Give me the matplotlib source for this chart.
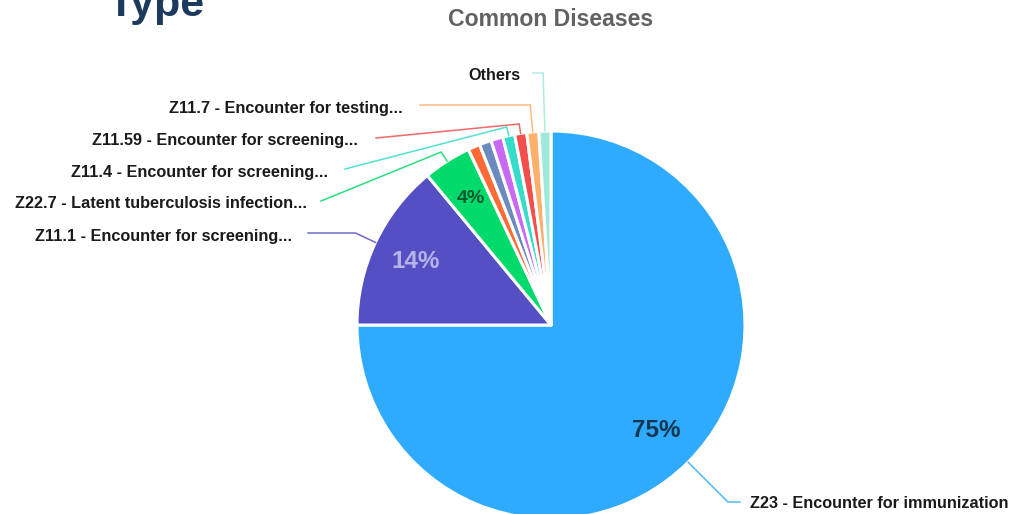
import matplotlib
matplotlib.use("Agg")
import matplotlib.pyplot as plt
import numpy as np

# ---- data ----
categories = [
    "Z23 - Encounter for immunization",
    "Z11.1 - Encounter for screening...",
    "Z22.7 - Latent tuberculosis infection...",
    "Slice A",
    "Slice B",
    "Slice C",
    "Z11.4 - Encounter for screening...",
    "Z11.59 - Encounter for screening...",
    "Z11.7 - Encounter for testing...",
    "Others",
]
values = [75, 14, 4, 1, 1, 1, 1, 1, 1, 1]
show_label = [True, True, True, False, False, False, True, True, True, True]
colors = ["#2eabff", "#5450c4", "#03da6c", "#ff6a36", "#6b8abf",
          "#c868f3", "#35dcc8", "#f54c4c", "#ffb06c", "#9ee9df"]
title = "Common Diseases"
header = "Type"

plt.rcParams['font.family'] = ['Liberation Sans', 'DejaVu Sans']

W, H = 1013, 514
CX, CY, R = 551, 325, 194

def d(px, py):
    return (px - CX) / R, (CY - py) / R

fig = plt.figure(figsize=(W / 100, H / 100), dpi=100)
ax = fig.add_axes([0, 0, 1, 1])

def pct_fmt(p):
    return "%.0f%%" % p if p >= 2 else ""

wedges, texts, autotexts = ax.pie(
    values, colors=colors, startangle=90, counterclock=False, radius=1,
    autopct=pct_fmt, pctdistance=0.77,
    wedgeprops=dict(edgecolor="white", linewidth=2.2, joinstyle="round"),
)
pct_colors = ["#173550", "#b6b3e8", "#0a5a30"]
pct_sizes = [17.5, 17.5, 14]
for i, t in enumerate(autotexts[:3]):
    t.set_color(pct_colors[i])
    t.set_fontsize(pct_sizes[i])
    t.set_fontweight("bold")

ax.set_xlim((0 - CX) / R, (W - CX) / R)
ax.set_ylim((CY - H) / R, (CY - 0) / R)
ax.set_aspect("auto")
ax.axis("off")

# label layout (pixel positions): elbow y, line end (x, y), text (x, y, ha)
layout = {
    0: dict(ey=502, end=(740, 502), txt=(750, 503), ha="left"),
    1: dict(ey=233, end=(308, 233), txt=(292, 236), ha="right"),
    2: dict(ey=152, end=(321, 201), txt=(307, 203), ha="right"),
    6: dict(ey=127, end=(345, 169), txt=(328, 172), ha="right"),
    7: dict(ey=124, end=(376, 138), txt=(358, 140), ha="right"),
    8: dict(ey=105, end=(420, 105), txt=(403, 108), ha="right"),
    9: dict(ey=73, end=(533, 73), txt=(520, 75), ha="right"),
}

for i, w in enumerate(wedges):
    if not show_label[i]:
        continue
    L = layout[i]
    m = np.deg2rad((w.theta1 + w.theta2) / 2)
    ex, ey = np.cos(m), np.sin(m)
    Y = d(0, L["ey"])[1]
    t = Y / np.sin(m)
    kx, ky = t * np.cos(m), Y
    endx, endy = d(*L["end"])
    ax.plot([ex, kx, endx], [ey, ky, endy], color=colors[i], lw=1.1,
            alpha=0.85, solid_joinstyle="miter", clip_on=False)
    tx, ty = d(*L["txt"])
    ax.text(tx, ty, categories[i], ha=L["ha"], va="center", fontsize=11.7,
            fontweight="bold", color="#1a1a1a")

fig.text(551 / W, 1 - 20 / H, title, ha="center", va="center",
         fontsize=16.6, fontweight="bold", color="#626262")
fig.text(107 / W, 1 - 16 / H, header, ha="left", va="baseline",
         fontsize=31, fontweight="bold", color="#1b3a5e")

fig.savefig("out.png", dpi=100)
